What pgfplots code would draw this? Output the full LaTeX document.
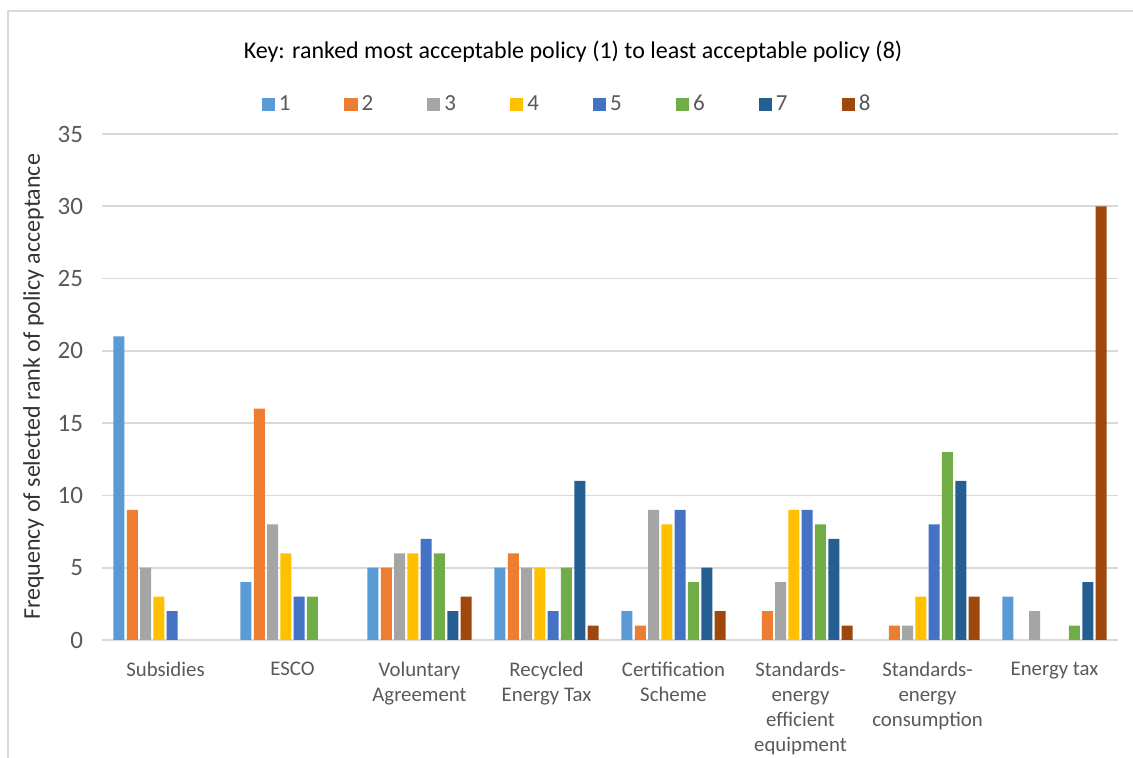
\documentclass[border=0pt]{standalone}
\usepackage{pgfplots}
\pgfplotsset{compat=1.18}
\usepackage{fontspec}
\setmainfont{Carlito}
\definecolor{c1}{HTML}{5B9BD5}
\definecolor{c2}{HTML}{ED7D31}
\definecolor{c3}{HTML}{A5A5A5}
\definecolor{c4}{HTML}{FFC000}
\definecolor{c5}{HTML}{4472C4}
\definecolor{c6}{HTML}{70AD47}
\definecolor{c7}{HTML}{255E91}
\definecolor{c8}{HTML}{9E480E}
\definecolor{gridc}{HTML}{D9D9D9}
\definecolor{txt}{HTML}{595959}
\begin{document}
\begin{tikzpicture}[x=0.5pt,y=0.5pt]
\useasboundingbox (0,0) rectangle (1133,758);
\draw[gridc, line width=1pt] (8,-20) -- (8,747) -- (1160,747);
\node[font=\fontsize{12}{14}\selectfont, text=black] at (573,706) {Key: ranked most acceptable policy (1) to least acceptable policy (8)};
\begin{axis}[
  at={(51pt,59pt)}, anchor=south west,
  scale only axis, width=508pt, height=253pt,
  xmin=-0.5, xmax=7.5, ymin=0, ymax=35,
  ytick={0,5,...,35},
  xtick={0,...,7},
  xticklabels={Subsidies, ESCO, Voluntary\\Agreement, Recycled\\Energy Tax, Certification\\Scheme, Standards-\\energy\\efficient\\equipment, Standards-\\energy\\consumption, Energy tax},
  xticklabel style={align=center, text=txt, font=\fontsize{10.4}{12.5}\selectfont, anchor=north, yshift=-7.5pt},
  yticklabel style={text=txt, font=\fontsize{12.5}{14}\selectfont, xshift=-6pt},
  /pgf/number format/assume math mode=true,
  ymajorgrids, grid style={gridc, line width=0.8pt},
  axis x line*=bottom, axis y line*=left,
  y axis line style={draw=none},
  x axis line style={gridc, line width=1.2pt},
  major tick length=0pt,
  ylabel={Frequency of selected rank of policy acceptance},
  ylabel style={font=\fontsize{12}{14}\selectfont, text=black!80},
  ybar, bar width=5.5pt,
  legend style={at={(0.5,1.0)}, anchor=south, xshift=-21pt, yshift=6pt, draw=none, legend columns=8,
     font=\fontsize{11.5}{13}\selectfont, text=txt,
     /tikz/every even column/.append style={column sep=25pt}},
  legend image code/.code={\fill[#1] (0pt,-3.3pt) rectangle (6.6pt,3.3pt);},
]
\addplot[fill=c1, draw=none, bar shift=-23.275pt] coordinates {(0,21) (1,4) (2,5) (3,5) (4,2) (7,3)};
\addplot[fill=c2, draw=none, bar shift=-16.625pt] coordinates {(0,9) (1,16) (2,5) (3,6) (4,1) (5,2) (6,1)};
\addplot[fill=c3, draw=none, bar shift=-9.975pt] coordinates {(0,5) (1,8) (2,6) (3,5) (4,9) (5,4) (6,1) (7,2)};
\addplot[fill=c4, draw=none, bar shift=-3.325pt] coordinates {(0,3) (1,6) (2,6) (3,5) (4,8) (5,9) (6,3)};
\addplot[fill=c5, draw=none, bar shift=3.325pt] coordinates {(0,2) (1,3) (2,7) (3,2) (4,9) (5,9) (6,8)};
\addplot[fill=c6, draw=none, bar shift=9.975pt] coordinates {(1,3) (2,6) (3,5) (4,4) (5,8) (6,13) (7,1)};
\addplot[fill=c7, draw=none, bar shift=16.625pt] coordinates {(2,2) (3,11) (4,5) (5,7) (6,11) (7,4)};
\addplot[fill=c8, draw=none, bar shift=23.275pt] coordinates {(2,3) (3,1) (4,2) (5,1) (6,3) (7,30)};
\legend{1,2,3,4,5,6,7,8}
\end{axis}
\end{tikzpicture}
\end{document}
